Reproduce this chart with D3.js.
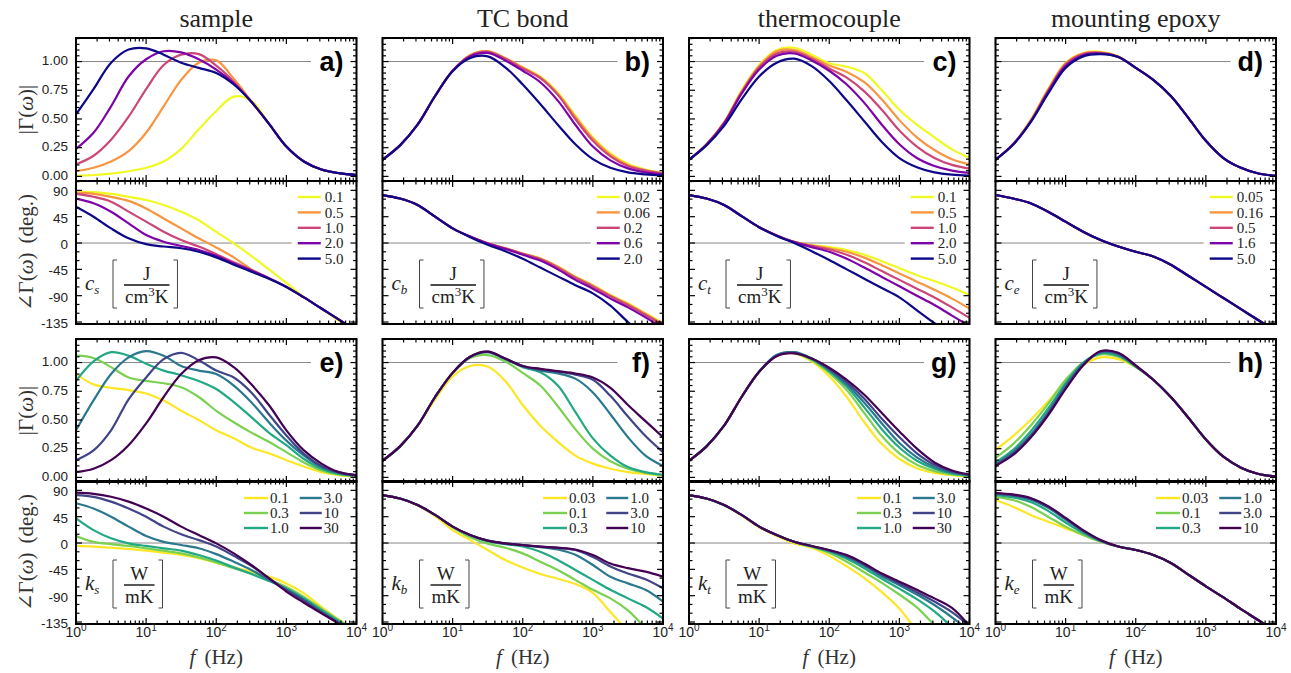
<!DOCTYPE html>
<html><head><meta charset="utf-8">
<script src="https://cdn.jsdelivr.net/npm/d3@7"></script>
<style>body{margin:0;background:#fff}</style>
</head><body><svg id="c" width="1291" height="673"></svg>
<script>
// ---------------- DATA ----------------
const freqs = [1, 1.778, 3.162, 5.623, 10, 17.78, 31.62, 56.23, 100, 177.8, 316.2, 562.3, 1000, 1778, 3162, 5623, 10000];
const columnTitles = ["sample", "TC bond", "thermocouple", "mounting epoxy"];
const magLetters = [["a)", "b)", "c)", "d)"], ["e)", "f)", "g)", "h)"]];
const magTicks = [0, 0.25, 0.5, 0.75, 1];
const magTickLabels = ["0.00", "0.25", "0.50", "0.75", "1.00"];
const phaseTicks = [-135, -90, -45, 0, 45, 90];
const phaseTickLabels = ["-135", "-90", "-45", "0", "45", "90"];
const xMajorTicks = [1, 10, 100, 1000, 10000];
const xTickExponents = ["0", "1", "2", "3", "4"];
const plasmaColors = ["#f0f921", "#f89540", "#cc4778", "#7e03a8", "#0d0887"];
const viridisColors = ["#fde725", "#7ad151", "#22a884", "#2a788e", "#414487", "#440154"];

const labelsCs = ["0.1", "0.5", "1.0", "2.0", "5.0"];
const labelsCb = ["0.02", "0.06", "0.2", "0.6", "2.0"];
const labelsCt = ["0.1", "0.5", "1.0", "2.0", "5.0"];
const labelsCe = ["0.05", "0.16", "0.5", "1.6", "5.0"];
const labelsKs = ["0.1", "0.3", "1.0", "3.0", "10", "30"];
const labelsKb = ["0.03", "0.1", "0.3", "1.0", "3.0", "10"];
const labelsKt = ["0.1", "0.3", "1.0", "3.0", "10", "30"];
const labelsKe = ["0.03", "0.1", "0.3", "1.0", "3.0", "10"];

const magA = [
 [0.005,0.012,0.025,0.045,0.075,0.13,0.24,0.41,0.57,0.695,0.66,0.46,0.26,0.13,0.06,0.028,0.012],
 [0.045,0.075,0.13,0.22,0.38,0.61,0.84,0.99,1.01,0.85,0.655,0.46,0.26,0.13,0.06,0.028,0.012],
 [0.105,0.18,0.32,0.52,0.76,0.97,1.06,1.065,0.965,0.825,0.65,0.46,0.26,0.13,0.06,0.028,0.012],
 [0.24,0.38,0.61,0.87,1.02,1.09,1.08,1.02,0.93,0.81,0.65,0.46,0.26,0.13,0.06,0.028,0.012],
 [0.54,0.76,0.99,1.105,1.115,1.06,0.99,0.945,0.90,0.80,0.65,0.46,0.26,0.13,0.06,0.028,0.012]];
const phaseA = [
 [88,87,84,79,73.5,65,53.5,39,19,-0.5,-22,-45,-68,-92,-112,-133,-152],
 [86,84,79,72,59,42,25,8,-7.5,-24.5,-45,-60,-75,-93,-112,-131,-150],
 [84,79,70.7,53.6,36.5,19.4,5,-6,-19,-33,-46,-60,-75,-93,-112,-131,-150],
 [76,68,53.5,33.6,13.7,2.3,-5,-12,-22,-35,-47,-60,-75,-93,-112,-131,-150],
 [62,45,25,8,-2,-6,-9,-15,-24.5,-37,-49,-61,-75,-93,-112,-131,-150]];
const magB = [
 [0.145,0.27,0.45,0.70,0.92,1.055,1.09,1.03,0.95,0.87,0.73,0.53,0.34,0.20,0.11,0.06,0.03],
 [0.145,0.27,0.45,0.70,0.92,1.055,1.09,1.03,0.948,0.865,0.72,0.52,0.33,0.19,0.10,0.055,0.028],
 [0.145,0.27,0.45,0.70,0.92,1.05,1.085,1.025,0.94,0.855,0.71,0.50,0.31,0.175,0.09,0.05,0.025],
 [0.145,0.27,0.45,0.70,0.92,1.045,1.075,1.01,0.92,0.82,0.66,0.45,0.26,0.14,0.07,0.035,0.018],
 [0.145,0.27,0.45,0.70,0.915,1.03,1.045,0.95,0.80,0.63,0.45,0.28,0.15,0.075,0.035,0.018,0.008]];
const phaseB = [
 [82,76,65,45,25,11,-0.5,-9,-18,-26,-40,-57.5,-72,-89,-103,-120,-137],
 [82,76,65,45,25,11,-0.5,-9,-18,-26.5,-40.5,-58,-72.5,-89.5,-104,-121,-138],
 [82,76,65,45,25,11,-0.5,-9,-18.5,-27.5,-42,-59.5,-74.5,-91,-106,-123,-140],
 [82,76,65,45,25,11,-1,-10,-20,-30,-45,-63,-78,-95,-110,-127,-145],
 [82,76,65,45,25,10,-3,-14,-27,-42,-57,-72,-86,-107,-135,-160,-180]];
const magC = [
 [0.145,0.28,0.47,0.75,0.97,1.10,1.12,1.06,0.985,0.955,0.90,0.75,0.58,0.45,0.34,0.235,0.16],
 [0.145,0.28,0.47,0.74,0.96,1.09,1.10,1.04,0.965,0.91,0.82,0.67,0.49,0.34,0.23,0.15,0.105],
 [0.145,0.28,0.465,0.73,0.95,1.07,1.085,1.025,0.94,0.86,0.74,0.58,0.40,0.26,0.16,0.10,0.068],
 [0.145,0.275,0.46,0.72,0.93,1.05,1.07,1.01,0.92,0.80,0.64,0.45,0.28,0.16,0.09,0.05,0.03],
 [0.145,0.27,0.44,0.67,0.87,0.99,1.025,0.96,0.83,0.66,0.48,0.30,0.16,0.08,0.035,0.015,0.007]];
const phaseC = [
 [82,76,65,46,27,13,2,-3.5,-7,-12,-20,-31,-43,-55,-65,-76,-89],
 [82,76,65,46,27,13,2,-4,-9,-15,-25,-38,-52,-66,-80,-95,-112],
 [82,76,65,46,27,13,2,-5,-11,-20,-33,-48,-63,-78,-93,-110,-128],
 [82,76,65,46,27,13,1.5,-7,-15,-27,-42,-58,-74,-90,-106,-124,-142],
 [82,76,65,46,27,12,0,-14,-29,-45,-61,-77,-93,-115,-137,-158,-178]];
const magD = [
 [0.145,0.28,0.49,0.76,0.99,1.075,1.085,1.045,0.945,0.84,0.70,0.51,0.31,0.16,0.075,0.025,0.005],
 [0.145,0.28,0.485,0.755,0.985,1.07,1.08,1.043,0.945,0.84,0.70,0.51,0.31,0.16,0.075,0.025,0.005],
 [0.145,0.28,0.48,0.745,0.975,1.065,1.075,1.042,0.945,0.84,0.70,0.51,0.31,0.16,0.075,0.025,0.005],
 [0.145,0.278,0.475,0.735,0.96,1.055,1.07,1.04,0.945,0.84,0.70,0.51,0.31,0.16,0.075,0.025,0.005],
 [0.145,0.275,0.47,0.72,0.945,1.045,1.065,1.04,0.945,0.84,0.70,0.51,0.31,0.16,0.075,0.025,0.005]];
const phaseD = [
 [82,76,68,53.5,36.5,19.4,5,-6,-15,-23,-37,-56,-75,-94,-113,-132,-151],
 [82,76,68,53.3,36,19,4.8,-6,-15,-23,-37,-56,-75,-94,-113,-132,-151],
 [82,76,68,53.5,36.4,19.3,5,-6,-15,-23,-37,-56,-75,-94,-113,-132,-151],
 [82,76,68,53.5,36.5,19.4,5,-6,-15,-23,-37,-56,-75,-94,-113,-132,-151],
 [82,76,68,53.5,36.5,19.4,5,-6,-15,-23,-37,-56,-75,-94,-113,-132,-151]];
const magE = [
 [0.90,0.81,0.78,0.76,0.73,0.67,0.58,0.50,0.41,0.34,0.26,0.21,0.15,0.095,0.045,0.02,0.005],
 [1.06,1.04,0.96,0.87,0.84,0.82,0.785,0.70,0.58,0.48,0.39,0.31,0.22,0.13,0.06,0.025,0.01],
 [0.84,1.01,1.09,1.06,0.99,0.93,0.89,0.84,0.77,0.655,0.525,0.39,0.28,0.16,0.075,0.03,0.012],
 [0.41,0.67,0.90,1.045,1.10,1.06,0.97,0.93,0.90,0.80,0.655,0.48,0.32,0.19,0.09,0.038,0.015],
 [0.15,0.235,0.41,0.68,0.87,1.03,1.085,1.02,0.93,0.87,0.74,0.55,0.365,0.205,0.10,0.045,0.018],
 [0.046,0.075,0.15,0.28,0.47,0.70,0.90,1.02,1.045,0.96,0.81,0.63,0.41,0.235,0.12,0.046,0.02]];
const phaseE = [
 [-5,-6,-8,-10,-13,-16.5,-20.5,-26,-33.6,-41.6,-49,-57.5,-69,-86,-109,-131,-150],
 [12,2,-2,-5,-9,-13,-17.7,-24.5,-33,-43,-52,-63,-75,-92,-112,-132,-150],
 [42,22,8,-0.5,-5,-9,-13,-20.5,-30,-41.6,-53,-65,-77.5,-94.6,-114.5,-134,-152],
 [68,59,45,28,12,2,-3.4,-9,-19,-32,-46,-63,-80,-97,-117,-136,-155],
 [82,79,70.7,59,45,28,15,5,-6,-22,-39,-60,-80,-98.6,-119,-137,-156],
 [86,84,79,70.7,59,45,28,13.7,-0.6,-17.7,-37.6,-60,-83,-102,-120,-138,-157]];
const magF = [
 [0.145,0.27,0.45,0.68,0.88,0.97,0.965,0.84,0.63,0.45,0.31,0.19,0.12,0.075,0.046,0.03,0.015],
 [0.145,0.27,0.45,0.70,0.91,1.04,1.065,1.01,0.91,0.80,0.62,0.42,0.25,0.14,0.075,0.04,0.02],
 [0.145,0.27,0.45,0.70,0.91,1.05,1.09,1.03,0.96,0.915,0.80,0.57,0.34,0.19,0.09,0.046,0.023],
 [0.145,0.27,0.45,0.70,0.91,1.05,1.09,1.03,0.965,0.93,0.905,0.86,0.74,0.55,0.35,0.19,0.10],
 [0.145,0.27,0.45,0.70,0.91,1.05,1.095,1.035,0.97,0.94,0.92,0.895,0.85,0.71,0.53,0.36,0.22],
 [0.145,0.27,0.45,0.70,0.91,1.05,1.095,1.035,0.97,0.945,0.925,0.905,0.87,0.78,0.63,0.49,0.35]];
const phaseF = [
 [82,76,64,46,22,5,-12,-29,-42,-53,-61,-70,-85,-118,-150,-175,-190],
 [82,76,65,48,27,10,-1,-8,-17.7,-32,-46,-63,-80,-94.6,-115,-145,-170],
 [82,76,65,48,28,13,3,-2,-6,-15,-29,-46,-63,-80,-94.6,-109,-129],
 [82,76,65,48,28,13.7,4,-1,-4,-7,-11,-20,-37.6,-57.5,-69,-80,-100],
 [82,76,65,48,28,13.7,4,-0.6,-3.4,-6,-8.5,-12,-24,-40,-52,-62,-77.5],
 [82,76,65,48,28,13.7,4,-0.6,-3.4,-6,-8,-11,-20.5,-35,-43,-49,-57.5]];
const magG = [
 [0.145,0.27,0.45,0.70,0.92,1.06,1.08,1.01,0.88,0.70,0.48,0.29,0.16,0.08,0.04,0.02,0.008],
 [0.145,0.27,0.45,0.70,0.92,1.06,1.085,1.02,0.91,0.76,0.56,0.36,0.21,0.11,0.055,0.027,0.012],
 [0.145,0.27,0.45,0.70,0.92,1.065,1.09,1.03,0.925,0.79,0.61,0.42,0.26,0.145,0.075,0.035,0.016],
 [0.145,0.27,0.45,0.70,0.92,1.065,1.09,1.035,0.935,0.81,0.65,0.47,0.30,0.175,0.09,0.043,0.019],
 [0.145,0.27,0.45,0.70,0.92,1.06,1.085,1.035,0.945,0.83,0.685,0.51,0.35,0.21,0.11,0.052,0.022],
 [0.145,0.27,0.45,0.70,0.92,1.055,1.08,1.035,0.955,0.85,0.72,0.56,0.40,0.25,0.13,0.06,0.026]];
const phaseG = [
 [82,76,65,47,27,12,-0.6,-8,-22,-40,-60,-84,-112,-150,-180,-195,-205],
 [82,76,65,48,28,13.7,2,-6.5,-17,-32,-50,-68,-88,-110,-140,-165,-185],
 [82,76,65,48,28,13.7,2,-6,-14.5,-27,-43,-61,-78,-96,-117,-143,-165],
 [82,76,65,48,28,13.7,2.3,-5.5,-13,-24,-39,-57,-72,-88,-106,-127,-150],
 [82,76,65,48,28,13.7,2.3,-5,-12.5,-22,-37,-54,-69,-84,-100,-118,-142],
 [82,76,65,48,28,13.7,2.3,-5,-12,-20.5,-35,-52,-66,-80,-94.6,-111,-142]];
const magH = [
 [0.24,0.36,0.50,0.66,0.84,0.98,1.045,1.03,0.96,0.85,0.70,0.52,0.33,0.18,0.085,0.03,0.008],
 [0.17,0.29,0.45,0.64,0.85,1.0,1.07,1.05,0.96,0.85,0.70,0.52,0.33,0.18,0.085,0.03,0.008],
 [0.13,0.24,0.40,0.60,0.82,1.0,1.08,1.06,0.965,0.85,0.70,0.52,0.33,0.18,0.085,0.03,0.008],
 [0.115,0.22,0.37,0.57,0.80,0.99,1.09,1.07,0.97,0.85,0.70,0.52,0.33,0.18,0.085,0.03,0.008],
 [0.105,0.205,0.355,0.55,0.78,0.98,1.095,1.08,0.97,0.85,0.70,0.52,0.33,0.18,0.085,0.03,0.008],
 [0.10,0.195,0.345,0.54,0.77,0.975,1.10,1.085,0.975,0.85,0.70,0.52,0.33,0.18,0.085,0.03,0.008]];
const phaseH = [
 [73.5,62,48,36.5,25,13.7,2.3,-6,-12,-20.5,-34,-54,-74,-93,-113,-132,-152],
 [79,73.5,62,45,28,13.7,2.3,-6,-12,-20.5,-34,-54,-74,-93,-113,-132,-152],
 [82,78,70,55,35,17,3,-6,-12,-20.5,-34,-54,-74,-93,-113,-132,-152],
 [84,81,74,60,40,20,4,-6,-12,-20.5,-34,-54,-74,-93,-113,-132,-152],
 [85,82,76,62,42,21,4.5,-6,-12,-20.5,-34,-54,-74,-93,-113,-132,-152],
 [85.5,83,77,63,43,22,5,-6,-12,-20.5,-34,-54,-74,-93,-113,-132,-152]];

// ---------------- LAYOUT ----------------
const W = 280.5, H = 143;
const lefts = [76, 382.5, 689, 995.5];
const tops = [38, 181, 339, 481];
const magDomain = [-0.04, 1.205], phaseDomain = [-138.4, 106];
const serif = "'Liberation Serif','DejaVu Serif',serif";
const sans = "'Liberation Sans',Arial,sans-serif";

const panels = [
 {row:0,col:0,kind:"mag",data:magA,colors:plasmaColors,letter:magLetters[0][0]},
 {row:0,col:1,kind:"mag",data:magB,colors:plasmaColors,letter:magLetters[0][1]},
 {row:0,col:2,kind:"mag",data:magC,colors:plasmaColors,letter:magLetters[0][2]},
 {row:0,col:3,kind:"mag",data:magD,colors:plasmaColors,letter:magLetters[0][3]},
 {row:1,col:0,kind:"phase",data:phaseA,colors:plasmaColors,labels:labelsCs,sym:"c",sub:"s",unit:"J"},
 {row:1,col:1,kind:"phase",data:phaseB,colors:plasmaColors,labels:labelsCb,sym:"c",sub:"b",unit:"J"},
 {row:1,col:2,kind:"phase",data:phaseC,colors:plasmaColors,labels:labelsCt,sym:"c",sub:"t",unit:"J"},
 {row:1,col:3,kind:"phase",data:phaseD,colors:plasmaColors,labels:labelsCe,sym:"c",sub:"e",unit:"J"},
 {row:2,col:0,kind:"mag",data:magE,colors:viridisColors,letter:magLetters[1][0]},
 {row:2,col:1,kind:"mag",data:magF,colors:viridisColors,letter:magLetters[1][1]},
 {row:2,col:2,kind:"mag",data:magG,colors:viridisColors,letter:magLetters[1][2]},
 {row:2,col:3,kind:"mag",data:magH,colors:viridisColors,letter:magLetters[1][3]},
 {row:3,col:0,kind:"phase",data:phaseE,colors:viridisColors,labels:labelsKs,sym:"k",sub:"s",unit:"W"},
 {row:3,col:1,kind:"phase",data:phaseF,colors:viridisColors,labels:labelsKb,sym:"k",sub:"b",unit:"W"},
 {row:3,col:2,kind:"phase",data:phaseG,colors:viridisColors,labels:labelsKt,sym:"k",sub:"t",unit:"W"},
 {row:3,col:3,kind:"phase",data:phaseH,colors:viridisColors,labels:labelsKe,sym:"k",sub:"e",unit:"W"}
];

const svg = d3.select("#c");
const defs = svg.append("defs");

panels.forEach((p, pi) => {
  const L = lefts[p.col], T = tops[p.row];
  const x = d3.scaleLog().domain([1, 1e4]).range([L, L + W]);
  const y = d3.scaleLinear().domain(p.kind === "mag" ? magDomain : phaseDomain).range([T + H, T]);
  const g = svg.append("g");
  const cid = "clip" + pi;
  defs.append("clipPath").attr("id", cid).append("rect")
    .attr("x", L).attr("y", T).attr("width", W).attr("height", H);

  let refEnd = L + W;
  const legend = g.append("g");
  if (p.kind === "phase") {
    if (p.row === 1) {
      const texts = p.labels.map((lab, i) => legend.append("text")
        .attr("y", T + 16 + i * 15.4).attr("dy", "0.35em")
        .attr("font-family", serif).attr("font-size", 15).attr("fill", "#222").text(lab));
      const maxW = d3.max(texts, t => t.node().getComputedTextLength());
      const tx = L + W - 13 - maxW;
      texts.forEach(t => t.attr("x", tx));
      p.labels.forEach((lab, i) => legend.append("line")
        .attr("x1", tx - 27).attr("x2", tx - 4)
        .attr("y1", T + 16 + i * 15.4).attr("y2", T + 16 + i * 15.4)
        .attr("stroke", p.colors[i]).attr("stroke-width", 2.4));
      refEnd = tx - 33;
    } else {
      const colT = [0, 1].map(c => p.labels.slice(c * 3, c * 3 + 3).map((lab, j) => legend.append("text")
          .attr("y", T + 17 + j * 15).attr("dy", "0.35em")
          .attr("font-family", serif).attr("font-size", 15).attr("fill", "#222").text(lab)));
      const w2 = d3.max(colT[1], t => t.node().getComputedTextLength());
      const tx2 = L + W - 14 - w2;
      const l2s = tx2 - 24;
      const w1 = d3.max(colT[0], t => t.node().getComputedTextLength());
      const tx1 = l2s - 11 - w1;
      const l1s = tx1 - 26;
      [tx1, tx2].forEach((tx, c) => colT[c].forEach(t => t.attr("x", tx)));
      p.labels.forEach((lab, i) => {
        const c = Math.floor(i / 3), j = i % 3;
        const ls = c === 0 ? l1s : l2s, le = c === 0 ? tx1 - 2 : tx2 - 2;
        legend.append("line").attr("x1", ls).attr("x2", le)
          .attr("y1", T + 17 + j * 15).attr("y2", T + 17 + j * 15)
          .attr("stroke", p.colors[i]).attr("stroke-width", 2.4);
      });
    }
  } else {
    refEnd = L + 235;
  }

  const refVal = p.kind === "mag" ? 1 : 0;
  g.append("line").attr("x1", L).attr("x2", refEnd)
    .attr("y1", y(refVal)).attr("y2", y(refVal))
    .attr("stroke", "#888").attr("stroke-width", 1);

  const line = d3.line().x((d, i) => x(freqs[i])).y(d => y(d)).curve(d3.curveCatmullRom.alpha(0.5));
  const cg = g.append("g").attr("clip-path", "url(#" + cid + ")");
  p.data.forEach((s, i) => cg.append("path").attr("d", line(s))
    .attr("fill", "none").attr("stroke", p.colors[i]).attr("stroke-width", 2.2)
    .attr("stroke-linejoin", "round"));
  legend.raise();

  if (p.letter) {
    g.append("text").attr("x", L + W - 13).attr("y", T + 33).attr("text-anchor", "end")
      .attr("font-family", sans).attr("font-weight", "bold").attr("font-size", 27)
      .attr("fill", "#000").text(p.letter);
  }

  if (p.kind === "phase") {
    const a = g.append("g").attr("fill", "#222");
    const st = a.append("text").attr("x", L + 9).attr("y", T + 109)
      .attr("font-family", serif).attr("font-size", 21).attr("font-style", "italic");
    st.append("tspan").text(p.sym);
    st.append("tspan").attr("font-size", 13).attr("dy", 4).text(p.sub);
    const den = a.append("text").attr("y", T + 122).attr("font-family", serif).attr("font-size", 19);
    if (p.unit === "J") {
      den.append("tspan").text("cm");
      den.append("tspan").attr("font-size", 13).attr("dy", -7).text("3");
      den.append("tspan").attr("dy", 7).text("K");
    } else {
      den.append("tspan").text("mK");
    }
    const dw = den.node().getComputedTextLength();
    const bs = L + 48, be = bs + dw + 2, bc = (bs + be) / 2;
    den.attr("x", bs + 1);
    a.append("text").attr("x", bc).attr("y", T + 99).attr("text-anchor", "middle")
      .attr("font-family", serif).attr("font-size", 19).text(p.unit);
    a.append("line").attr("x1", bs).attr("x2", be).attr("y1", T + 104).attr("y2", T + 104)
      .attr("stroke", "#111").attr("stroke-width", 1.4);
    const bl = L + 37, br = be + 8, bt = T + 79, bb = T + 127;
    a.append("path").attr("d", `M${bl + 4},${bt}H${bl}V${bb}H${bl + 4}M${br - 4},${bt}H${br}V${bb}H${br - 4}`)
      .attr("fill", "none").attr("stroke", "#444").attr("stroke-width", 1);
  }

  const tk = g.append("g").attr("stroke", "#000").attr("stroke-width", 1.2);
  const xMinor = [];
  xMajorTicks.slice(0, 4).forEach(b => [2, 3, 4, 5, 6, 7, 8, 9].forEach(k => xMinor.push(b * k)));
  xMajorTicks.forEach(v => {
    tk.append("line").attr("x1", x(v)).attr("x2", x(v)).attr("y1", T + H).attr("y2", T + H - 6);
    tk.append("line").attr("x1", x(v)).attr("x2", x(v)).attr("y1", T).attr("y2", T + 6);
  });
  xMinor.forEach(v => {
    tk.append("line").attr("x1", x(v)).attr("x2", x(v)).attr("y1", T + H).attr("y2", T + H - 3.5);
    tk.append("line").attr("x1", x(v)).attr("x2", x(v)).attr("y1", T).attr("y2", T + 3.5);
  });
  const yMaj = p.kind === "mag" ? magTicks : phaseTicks;
  const yMin = [];
  if (p.kind === "mag") { for (let k = 1; k <= 24; k++) if (k % 5) yMin.push(k * 0.05); }
  else { for (let k = -9; k <= 7; k++) if (k % 3) yMin.push(k * 15); }
  yMaj.forEach(v => {
    tk.append("line").attr("x1", L).attr("x2", L + 6).attr("y1", y(v)).attr("y2", y(v));
    tk.append("line").attr("x1", L + W).attr("x2", L + W - 6).attr("y1", y(v)).attr("y2", y(v));
  });
  yMin.forEach(v => {
    tk.append("line").attr("x1", L).attr("x2", L + 3.5).attr("y1", y(v)).attr("y2", y(v));
    tk.append("line").attr("x1", L + W).attr("x2", L + W - 3.5).attr("y1", y(v)).attr("y2", y(v));
  });

  g.append("rect").attr("x", L).attr("y", T).attr("width", W).attr("height", H)
    .attr("fill", "none").attr("stroke", "#000").attr("stroke-width", 2);

  if (p.col === 0) {
    const labs = p.kind === "mag" ? magTickLabels : phaseTickLabels;
    const nudge = p.kind === "mag" ? -1 : 1.2;
    yMaj.forEach((v, i) => g.append("text").attr("x", 68).attr("y", y(v) + nudge).attr("dy", "0.35em")
      .attr("text-anchor", "end").attr("font-family", sans).attr("font-size", 13.5)
      .attr("fill", "#222").text(labs[i]));
    const yt = g.append("text").attr("transform", `translate(33,${T + H / 2}) rotate(-90)`)
      .attr("text-anchor", "middle").attr("font-family", serif).attr("font-size", 21).attr("fill", "#333");
    if (p.kind === "mag") {
      yt.append("tspan").text("|Γ(");
      yt.append("tspan").attr("font-style", "italic").text("ω");
      yt.append("tspan").text(")|");
    } else {
      yt.append("tspan").text("∠Γ(");
      yt.append("tspan").attr("font-style", "italic").text("ω");
      yt.append("tspan").text(")");
      yt.append("tspan").attr("dx", 9).text("(deg.)");
    }
  }

  if (p.row === 3) {
    xMajorTicks.forEach((v, i) => {
      const t = g.append("text").attr("x", x(v)).attr("y", 637).attr("text-anchor", "middle")
        .attr("font-family", sans).attr("font-size", 14).attr("fill", "#222");
      t.append("tspan").text("10");
      t.append("tspan").attr("font-size", 10).attr("dy", -6).text(xTickExponents[i]);
    });
    const xt = g.append("text").attr("x", L + W / 2).attr("y", 664).attr("text-anchor", "middle")
      .attr("font-family", serif).attr("font-size", 21).attr("fill", "#333");
    xt.append("tspan").attr("font-style", "italic").text("f");
    xt.append("tspan").attr("dx", 9).text("(Hz)");
  }

  if (p.row === 0) {
    g.append("text").attr("x", L + W / 2).attr("y", 27).attr("text-anchor", "middle")
      .attr("font-family", serif).attr("font-size", 26).attr("fill", "#222").text(columnTitles[p.col]);
  }
});
</script></body></html>
